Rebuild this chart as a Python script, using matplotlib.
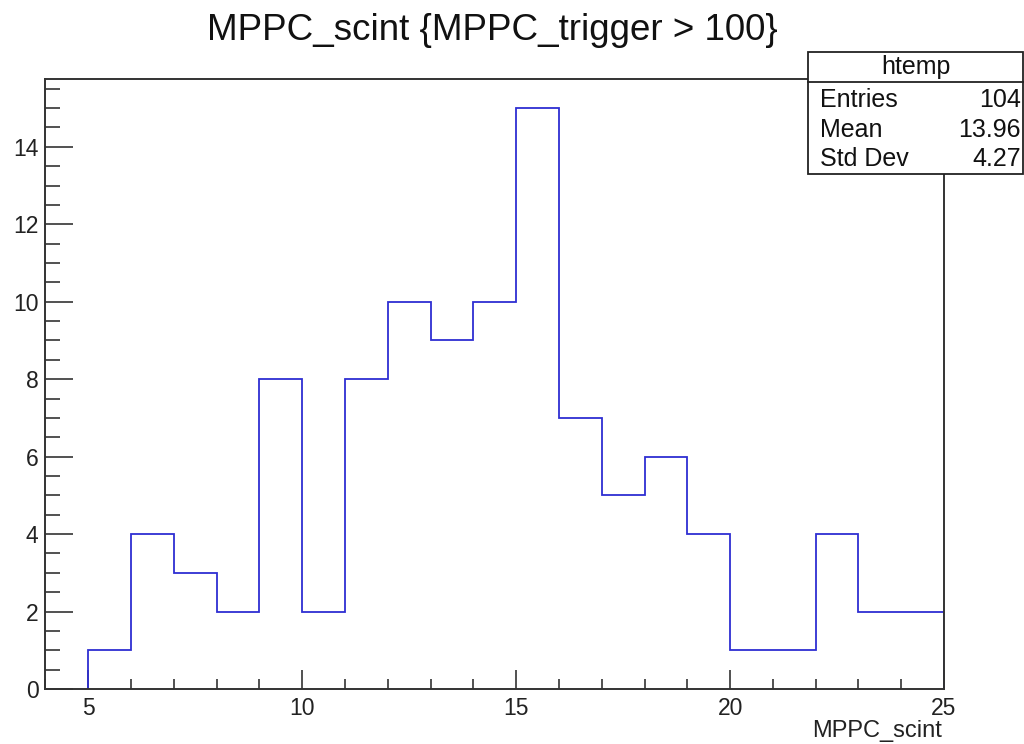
import numpy as np
import matplotlib
matplotlib.use("Agg")
import matplotlib.pyplot as plt
from matplotlib.ticker import MultipleLocator
from matplotlib.patches import Rectangle
from matplotlib.lines import Line2D

plt.rcParams['font.family'] = ['Liberation Sans', 'DejaVu Sans']

# Histogram of MPPC_scint with unit-width bins from 5 to 25
bin_edges = list(range(5, 26))
counts = [1, 4, 3, 2, 8, 2, 8, 10, 9, 10, 15, 7, 5, 6, 4, 1, 1, 4, 2, 2]

hist_name = "htemp"
title = "MPPC_scint {MPPC_trigger > 100}"
x_label = "MPPC_scint"
stat_labels = ["Entries", "Mean", "Std Dev"]
stat_values = ["104", "13.96", "4.27"]

W, H = 1024, 744
fig = plt.figure(figsize=(W / 100, H / 100), dpi=100)
ax = fig.add_axes([0.0444, 0.0739, 0.8775, 0.8199])

line_color = "#2e2ed2"
edges = np.array(bin_edges, dtype=float)
vals = np.array(counts, dtype=float)
# outline step, dropping to zero at the outer edges like a ROOT histogram
xs = np.concatenate([[edges[0]], np.repeat(edges, 2)[1:-1], [edges[-1]]])
ys = np.concatenate([[0], np.repeat(vals, 2), [0]])
ax.plot(xs, ys, color=line_color, lw=1.3, solid_joinstyle='miter')

ax.set_xlim(4, 25)
ax.set_ylim(0, max(counts) * 1.05)

ax.xaxis.set_major_locator(MultipleLocator(5))
ax.xaxis.set_minor_locator(MultipleLocator(1))
ax.yaxis.set_major_locator(MultipleLocator(2))
ax.yaxis.set_minor_locator(MultipleLocator(0.5))

ax.tick_params(axis='both', which='both', direction='in', color='#333333', width=1.2,
               labelsize=16.5, labelcolor='#222222')
ax.tick_params(axis='x', which='major', length=13.7, pad=6)
ax.tick_params(axis='x', which='minor', length=7.2)
ax.tick_params(axis='y', which='major', length=20, pad=5)
ax.tick_params(axis='y', which='minor', length=10.5)
ax.tick_params(top=False, right=False)

for sp in ax.spines.values():
    sp.set_color('#333333')
    sp.set_linewidth(1.4)

# axis title placed at the right end below the axis
fig.text(942 / W, 1 - 731 / H, x_label, ha='right', va='center', fontsize=17, color='#222222')

fig.text(492 / W, 1 - 30 / H, title, ha='center', va='center', fontsize=26.5, color='#111111')

# statistics box
bx0, bx1 = 808 / W, 1023 / W
by0, by1 = 1 - 174 / H, 1 - 52 / H
hy = 1 - 82 / H
fig.patches.append(Rectangle((bx0, by0), bx1 - bx0, by1 - by0, transform=fig.transFigure,
                             facecolor='white', edgecolor='#222222', lw=1.3, zorder=5))
fig.lines.append(Line2D([bx0, bx1], [hy, hy], transform=fig.transFigure,
                        color='#222222', lw=1.3, zorder=6))
fig.text(916 / W, 1 - 67 / H, hist_name, ha='center', va='center',
         fontsize=18, color='#111111', zorder=7)
row_y = [100, 130, 159]
for yc, lab, val in zip(row_y, stat_labels, stat_values):
    fig.text(820 / W, 1 - yc / H, lab, ha='left', va='center', fontsize=18,
             color='#111111', zorder=7)
    fig.text(1021 / W, 1 - yc / H, val, ha='right', va='center', fontsize=18,
             color='#111111', zorder=7)

fig.savefig("out.png", dpi=100, facecolor='white')
